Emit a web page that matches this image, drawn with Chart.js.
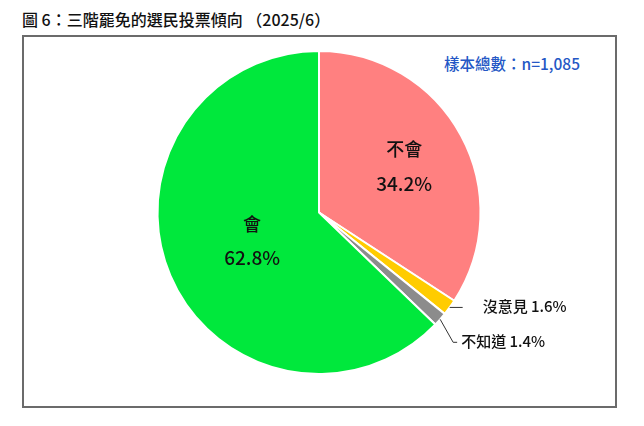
<!DOCTYPE html>
<html lang="zh-Hant">
<head>
  <meta charset="UTF-8" />
  <title>圖 6：三階罷免的選民投票傾向</title>
  <script src="https://cdn.jsdelivr.net/npm/chart.js"></script>
  <style>
    body{margin:0;padding:0;background:#fff;width:644px;height:426px;position:relative;overflow:hidden;font-family:"Noto Sans CJK TC","Noto Sans",sans-serif}
    #titulo{position:absolute;left:22px;top:7px;font-size:16px;font-weight:500;color:#111;white-space:pre}
    #marco{position:absolute;left:22px;top:35px;width:591px;height:369px;border:2px solid #6b6b6b}
    #muestra{position:absolute;left:444px;top:52px;font-size:15.5px;font-weight:500;color:#2457c5;white-space:pre}
    canvas{position:absolute;left:0;top:0}
  </style>
</head>
<body>
  <div id="titulo">圖 6：三階罷免的選民投票傾向 （2025/6）</div>
  <div id="marco"></div>
  <div id="muestra">樣本總數：n=1,085</div>
  <canvas id="grafico" width="644" height="426"></canvas>
<script>
/* ---------- datos ---------- */
const categorias = ["不會", "沒意見", "不知道", "會"];
const porcentajes = [34.2, 1.6, 1.4, 62.8];
const colores = ["#ff8080", "#ffcc00", "#8c8c8c", "#00e83c"];

/* ---------- etiquetas dentro / fuera del pastel ---------- */
const etiquetasPlugin = {
  id: "etiquetas",
  afterDatasetsDraw(chart){
    const ctx = chart.ctx;
    const arcos = chart.getDatasetMeta(0).data;
    ctx.save();
    ctx.fillStyle = "#111";
    ctx.strokeStyle = "#333";
    ctx.lineWidth = 1;
    arcos.forEach((a, i) => {
      const p = a.getProps(["x","y","startAngle","endAngle","outerRadius"], true);
      const ang = (p.startAngle + p.endAngle) / 2;
      const txt = porcentajes[i].toFixed(1) + "%";
      if (porcentajes[i] > 10) {
        // grandes: nombre arriba, porcentaje abajo
        const f = i === 0 ? 0.6 : 0.45;
        const cx = p.x + Math.cos(ang) * p.outerRadius * f;
        const cy = p.y + Math.sin(ang) * p.outerRadius * f;
        ctx.textAlign = "center";
        ctx.textBaseline = "middle";
        ctx.font = '500 18px "Noto Sans CJK TC"';
        ctx.fillText(categorias[i], cx, cy - 17);
        ctx.font = '500 19px "Noto Sans CJK TC"';
        ctx.fillText(txt, cx, cy + 17);
      } else {
        // pequeñas: línea guía y texto a la derecha
        const ex = p.x + Math.cos(ang) * p.outerRadius;
        const ey = p.y + Math.sin(ang) * p.outerRadius;
        let tx, ty;
        ctx.beginPath();
        ctx.moveTo(ex, ey);
        if (i === 1) {
          ctx.lineTo(ex + 13, ey);
          tx = ex + 33; ty = ey;
        } else {
          ctx.lineTo(ex + 13, ey + 23);
          ctx.lineTo(ex + 17, ey + 23);
          tx = ex + 21; ty = ey + 23;
        }
        ctx.stroke();
        ctx.textAlign = "left";
        ctx.textBaseline = "middle";
        ctx.font = '500 15px "Noto Sans CJK TC"';
        ctx.fillText(categorias[i] + " " + txt, tx, ty - 1);
      }
    });
    ctx.restore();
  }
};

new Chart(document.getElementById("grafico"), {
  type: "pie",
  data: {
    labels: categorias,
    datasets: [{
      data: porcentajes,
      backgroundColor: colores,
      borderColor: "#fff",
      borderWidth: 2
    }]
  },
  options: {
    responsive: false,
    animation: false,
    layout: { padding: { left: 156, right: 162, top: 50, bottom: 51 } },
    plugins: { legend: { display: false }, tooltip: { enabled: false } }
  },
  plugins: [etiquetasPlugin]
});
</script>
</body>
</html>
